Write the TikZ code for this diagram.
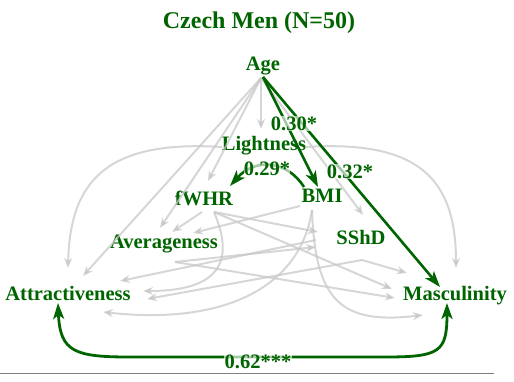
\documentclass[tikz,border=0pt]{standalone}
\usepackage{fontspec}
\setmainfont{Liberation Serif}
\usetikzlibrary{arrows.meta}
\definecolor{dg}{RGB}{0,100,0}
\definecolor{lg}{RGB}{200,200,200}
\begin{document}
\begin{tikzpicture}[x=1pt,y=-1pt,
 lab/.style={text=dg,font=\fontsize{20.5}{24}\selectfont\bfseries,inner sep=0pt,anchor=base},
 elab/.style={text=dg,font=\fontsize{20.5}{24}\selectfont\bfseries,inner sep=0.3pt,anchor=base,fill=white,fill opacity=0.65,text opacity=1},
 gr/.style={draw=lg,line width=2pt,draw opacity=0.75,-{Stealth[length=10pt,width=8pt,inset=3pt]}},
 gn/.style={draw=dg,line width=2.6pt,-{Stealth[length=16pt,width=11pt,inset=4pt]}},
 cov/.style={draw=dg,line width=2.8pt,{Stealth[length=16pt,width=11pt,inset=4pt]}-{Stealth[length=16pt,width=11pt,inset=4pt]}}
]
\useasboundingbox (0,0) rectangle (514,381);
% nodes
\node[lab,font=\fontsize{24}{28}\selectfont\bfseries] (title) at (259,28) {Czech Men (N=50)};
\node[lab] (age) at (263,70) {Age};
\node[lab] (light) at (264,150) {Lightness};
\node[lab] (fwhr) at (204,205) {fWHR};
\node[lab] (bmi) at (322,202) {BMI};
\node[lab] (avg) at (164,248) {Averageness};
\node[lab] (sshd) at (361,244) {SShD};
\node[lab] (attr) at (68,300) {Attractiveness};
\node[lab] (masc) at (455,300) {Masculinity};
% anchor points
\coordinate (ageS) at (261,78);
\coordinate (ageS2) at (263,77);
\coordinate (lightN) at (261,129);
\coordinate (lightW) at (222,147);
\coordinate (lightE) at (306,147);
\coordinate (fwhrN) at (208,181);
\coordinate (fwhrNE) at (230,186);
\coordinate (fwhrS) at (202,212);
\coordinate (fwhrSE) at (214,212);
\coordinate (bmiN) at (318,187);
\coordinate (bmiNW) at (304,187);
\coordinate (bmiW) at (300,206);
\coordinate (bmiS) at (312,210);
\coordinate (avgN) at (160,228);
\coordinate (avgNE) at (172,232);
\coordinate (avgE) at (193,233);
\coordinate (avgS) at (175,262);
\coordinate (sshdN) at (363,215);
\coordinate (sshdW) at (318,232);
\coordinate (sshdW2) at (316,247);
\coordinate (sshdW3) at (316,240);
\coordinate (sshdS) at (362,260);
\coordinate (attrN) at (83,276);
\coordinate (attrNW) at (68,268);
\coordinate (attrE1) at (143,291);
\coordinate (attrE2) at (147,299);
\coordinate (attrE3) at (120,281);
\coordinate (attrSE) at (103,312);
\coordinate (attrS) at (58,303);
\coordinate (mascN) at (440,287);
\coordinate (mascNE) at (456,268);
\coordinate (mascNW) at (407,273);
\coordinate (mascW1) at (392,289);
\coordinate (mascW2) at (395,298);
\coordinate (mascSW) at (423,315);
\coordinate (mascS) at (447,303);
% gray edges
\draw[gr] (ageS) -- (lightN);
\draw[gr] (ageS) -- (fwhrN);
\draw[gr] (ageS) -- (avgN);
\draw[gr] (ageS) -- (attrN);
\draw[gr] (ageS) -- (sshdN);
\draw[gr] (lightW) .. controls (110,140) and (70,178) .. (attrNW);
\draw[gr] (lightE) .. controls (418,140) and (456,178) .. (mascNE);
\draw[gr] (fwhrS) -- (avgNE);
\draw[gr] (bmiW) -- (avgE);
\draw[gr] (fwhrSE) -- (sshdW);
\draw[gr] (fwhrSE) -- (mascW1);
\draw[gr] (fwhrSE) .. controls (230,250) and (232,291) .. (attrE1);
\draw[gr] (bmiS) .. controls (300,290) and (220,325) .. (attrSE);
\draw[gr] (bmiS) .. controls (315,300) and (340,325) .. (mascSW);
\draw[gr] (sshdS) -- (mascNW);
\draw[gr] (sshdS) -- (attrE2);
\draw[gr] (avgS) -- (sshdW2);
\draw[gr] (avgS) -- (mascW2);
\draw[gr] (sshdW3) -- (attrE3);
% green edges
\draw[gn] (ageS2) -- (bmiN);
\draw[gn] (ageS2) -- (mascN);
\draw[gn] (bmiNW) .. controls (287,160) and (255,158) .. (fwhrNE);
\draw[cov] (attrS) .. controls (60,352) and (75,357) .. (130,357) -- (385,357) .. controls (440,357) and (447,352) .. (mascS);
% edge labels
\node[elab] (l30) at (294,130) {0.30*};
\node[elab] (l29) at (267,175) {0.29*};
\node[elab] (l32) at (350,178) {0.32*};
\node[elab] (l62) at (258,368) {0.62***};
% bottom rule
\draw[draw=gray,line width=0.8pt] (0,373) -- (494,373);
\end{tikzpicture}
\end{document}
